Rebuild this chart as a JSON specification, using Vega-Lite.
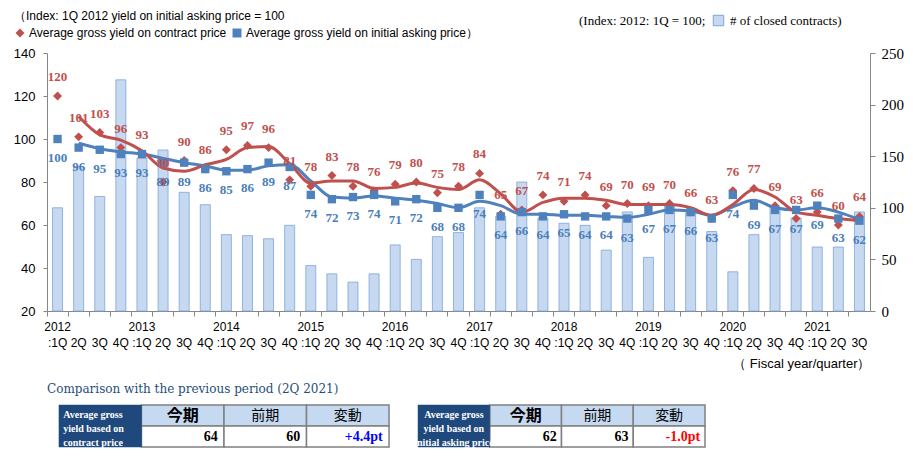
{
  "$schema": "https://vega.github.io/schema/vega-lite/v6.json",
  "padding": {"left": 13, "top": 11, "right": 4, "bottom": 0},
  "config": {"view": {"stroke": null}, "axis": {"grid": false}},
  "resolve": {"legend": {"color": "independent", "shape": "independent", "fill": "independent"}},
  "spacing": 13,
  "datasets": {
    "main": [
      {"q": "2012 1Q", "yr": "2012", "contract": 120, "asking": 100, "cAvg": null, "aAvg": null, "n": 100},
      {"q": "2012 2Q", "yr": "2012", "contract": 101, "asking": 96, "cAvg": 110.5, "aAvg": 98, "n": 140},
      {"q": "2012 3Q", "yr": "2012", "contract": 103, "asking": 95, "cAvg": 102, "aAvg": 95.5, "n": 111},
      {"q": "2012 4Q", "yr": "2012", "contract": 96, "asking": 93, "cAvg": 99.5, "aAvg": 94, "n": 224},
      {"q": "2013 1Q", "yr": "2013", "contract": 93, "asking": 93, "cAvg": 94.5, "aAvg": 93, "n": 148},
      {"q": "2013 2Q", "yr": "2013", "contract": 80, "asking": 89, "cAvg": 86.5, "aAvg": 91, "n": 156},
      {"q": "2013 3Q", "yr": "2013", "contract": 90, "asking": 89, "cAvg": 85, "aAvg": 89, "n": 115},
      {"q": "2013 4Q", "yr": "2013", "contract": 86, "asking": 86, "cAvg": 88, "aAvg": 87.5, "n": 103},
      {"q": "2014 1Q", "yr": "2014", "contract": 95, "asking": 85, "cAvg": 90.5, "aAvg": 85.5, "n": 74},
      {"q": "2014 2Q", "yr": "2014", "contract": 97, "asking": 86, "cAvg": 96, "aAvg": 85.5, "n": 73},
      {"q": "2014 3Q", "yr": "2014", "contract": 96, "asking": 89, "cAvg": 96.5, "aAvg": 87.5, "n": 70},
      {"q": "2014 4Q", "yr": "2014", "contract": 81, "asking": 87, "cAvg": 88.5, "aAvg": 88, "n": 83},
      {"q": "2015 1Q", "yr": "2015", "contract": 78, "asking": 74, "cAvg": 79.5, "aAvg": 80.5, "n": 44},
      {"q": "2015 2Q", "yr": "2015", "contract": 83, "asking": 72, "cAvg": 80.5, "aAvg": 73, "n": 36},
      {"q": "2015 3Q", "yr": "2015", "contract": 78, "asking": 73, "cAvg": 80.5, "aAvg": 72.5, "n": 28},
      {"q": "2015 4Q", "yr": "2015", "contract": 76, "asking": 74, "cAvg": 77, "aAvg": 73.5, "n": 36},
      {"q": "2016 1Q", "yr": "2016", "contract": 79, "asking": 71, "cAvg": 77.5, "aAvg": 72.5, "n": 64},
      {"q": "2016 2Q", "yr": "2016", "contract": 80, "asking": 72, "cAvg": 79.5, "aAvg": 71.5, "n": 50},
      {"q": "2016 3Q", "yr": "2016", "contract": 75, "asking": 68, "cAvg": 77.5, "aAvg": 70, "n": 72},
      {"q": "2016 4Q", "yr": "2016", "contract": 78, "asking": 68, "cAvg": 76.5, "aAvg": 68, "n": 76},
      {"q": "2017 1Q", "yr": "2017", "contract": 84, "asking": 74, "cAvg": 81, "aAvg": 71, "n": 100},
      {"q": "2017 2Q", "yr": "2017", "contract": 65, "asking": 64, "cAvg": 74.5, "aAvg": 69, "n": 92},
      {"q": "2017 3Q", "yr": "2017", "contract": 67, "asking": 66, "cAvg": 66, "aAvg": 65, "n": 125},
      {"q": "2017 4Q", "yr": "2017", "contract": 74, "asking": 64, "cAvg": 70.5, "aAvg": 65, "n": 90},
      {"q": "2018 1Q", "yr": "2018", "contract": 71, "asking": 65, "cAvg": 72.5, "aAvg": 64.5, "n": 85},
      {"q": "2018 2Q", "yr": "2018", "contract": 74, "asking": 64, "cAvg": 72.5, "aAvg": 64.5, "n": 83},
      {"q": "2018 3Q", "yr": "2018", "contract": 69, "asking": 64, "cAvg": 71.5, "aAvg": 64, "n": 59},
      {"q": "2018 4Q", "yr": "2018", "contract": 70, "asking": 63, "cAvg": 69.5, "aAvg": 63.5, "n": 96},
      {"q": "2019 1Q", "yr": "2019", "contract": 69, "asking": 67, "cAvg": 69.5, "aAvg": 65, "n": 52},
      {"q": "2019 2Q", "yr": "2019", "contract": 70, "asking": 67, "cAvg": 69.5, "aAvg": 67, "n": 103},
      {"q": "2019 3Q", "yr": "2019", "contract": 66, "asking": 66, "cAvg": 68, "aAvg": 66.5, "n": 95},
      {"q": "2019 4Q", "yr": "2019", "contract": 63, "asking": 63, "cAvg": 64.5, "aAvg": 64.5, "n": 77},
      {"q": "2020 1Q", "yr": "2020", "contract": 76, "asking": 74, "cAvg": 69.5, "aAvg": 68.5, "n": 38},
      {"q": "2020 2Q", "yr": "2020", "contract": 77, "asking": 69, "cAvg": 76.5, "aAvg": 71.5, "n": 74},
      {"q": "2020 3Q", "yr": "2020", "contract": 69, "asking": 67, "cAvg": 73, "aAvg": 68, "n": 101},
      {"q": "2020 4Q", "yr": "2020", "contract": 63, "asking": 67, "cAvg": 66, "aAvg": 67, "n": 90},
      {"q": "2021 1Q", "yr": "2021", "contract": 66, "asking": 69, "cAvg": 64.5, "aAvg": 68, "n": 62},
      {"q": "2021 2Q", "yr": "2021", "contract": 60, "asking": 63, "cAvg": 63, "aAvg": 66, "n": 62},
      {"q": "2021 3Q", "yr": "2021", "contract": 64, "asking": 62, "cAvg": 62, "aAvg": 62.5, "n": 96}
    ],
    "t1": [
      {"col": "label", "row": "h", "text": "Average gross\nyield based on\ncontract price"},
      {"col": "label", "row": "v", "text": ""},
      {"col": "今期", "row": "h", "text": "今期"},
      {"col": "前期", "row": "h", "text": "前期"},
      {"col": "変動", "row": "h", "text": "変動"},
      {"col": "今期", "row": "v", "text": "64"},
      {"col": "前期", "row": "v", "text": "60"},
      {"col": "変動", "row": "v", "text": "+4.4pt"}
    ],
    "t2": [
      {"col": "label", "row": "h", "text": "Average gross\nyield based on\ninitial asking price"},
      {"col": "label", "row": "v", "text": ""},
      {"col": "今期", "row": "h", "text": "今期"},
      {"col": "前期", "row": "h", "text": "前期"},
      {"col": "変動", "row": "h", "text": "変動"},
      {"col": "今期", "row": "v", "text": "62"},
      {"col": "前期", "row": "v", "text": "63"},
      {"col": "変動", "row": "v", "text": "-1.0pt"}
    ]
  },
  "vconcat": [
    {
      "width": 823,
      "height": 258,
      "data": {"name": "main"},
      "encoding": {
        "x": {
          "field": "q", "type": "ordinal", "sort": null,
          "scale": {"paddingInner": 0, "paddingOuter": 0},
          "axis": {
            "title": "（ Fiscal year/quarter）", "titleAnchor": "end", "titleFont": "Liberation Sans", "titleFontSize": 13, "titleFontWeight": "normal", "titleColor": "#000000", "titlePadding": 9,
            "labelExpr": "slice(datum.value,5)==='1Q' ? ':1Q' : slice(datum.value,5)",
            "labelAngle": 0, "labelFont": "Liberation Sans", "labelFontSize": 12, "labelColor": "#000000", "labelPadding": 21,
            "bandPosition": 0, "tickSize": 5, "tickColor": "#868686", "domainColor": "#868686"
          }
        }
      },
      "layer": [
        {
          "mark": {"type": "bar", "size": 10, "stroke": "#7da5d8", "strokeWidth": 0.8},
          "encoding": {
            "y": {"field": "n", "type": "quantitative", "scale": {"domain": [0, 250], "nice": false},
              "axis": {"orient": "right", "values": [0, 50, 100, 150, 200, 250], "title": null, "labelFont": "Liberation Serif", "labelFontSize": 15, "labelColor": "#000000", "tickSize": 5, "labelPadding": 6, "tickColor": "#868686", "domainColor": "#868686"}},
            "fill": {"datum": "# of closed contracts)", "scale": {"range": ["#c6d9f1"]},
              "legend": {"orient": "none", "legendX": 532, "legendY": -39, "title": "(Index: 2012: 1Q = 100;", "titleOrient": "left", "titleFont": "Liberation Serif", "titleFontSize": 13, "titleFontWeight": "normal", "titleColor": "#000000", "titlePadding": 6, "titleLimit": 400, "labelFont": "Liberation Serif", "labelFontSize": 13, "labelColor": "#000000", "labelLimit": 400, "symbolType": "square", "symbolSize": 110, "symbolStrokeColor": "#7da5d8", "symbolStrokeWidth": 1, "labelOffset": 5, "padding": 0}}
          }
        },
        {
          "transform": [{"filter": "datum.aAvg != null"}],
          "mark": {"type": "line", "color": "#4f81bd", "strokeWidth": 3, "interpolate": "monotone"},
          "encoding": {"y": {"field": "aAvg", "type": "quantitative", "scale": {"domain": [20, 140], "nice": false},
            "axis": {"orient": "left", "values": [20, 40, 60, 80, 100, 120, 140], "title": null, "labelFont": "Liberation Sans", "labelFontSize": 13, "labelColor": "#000000", "tickSize": 4, "labelPadding": 8, "tickColor": "#868686", "domainColor": "#868686"}}}
        },
        {
          "transform": [{"filter": "datum.cAvg != null"}],
          "mark": {"type": "line", "color": "#c0504d", "strokeWidth": 3, "interpolate": "monotone"},
          "encoding": {"y": {"field": "cAvg", "type": "quantitative", "scale": {"domain": [20, 140], "nice": false}, "axis": null}}
        },
        {
          "mark": {"type": "point", "filled": true, "opacity": 1, "size": 80},
          "encoding": {
            "y": {"field": "contract", "type": "quantitative", "scale": {"domain": [20, 140], "nice": false}, "axis": null},
            "color": {"datum": "Average gross yield on contract price", "scale": {"domain": ["Average gross yield on contract price", "Average gross yield on initial asking price）"], "range": ["#c0504d", "#4f81bd"]},
              "legend": {"orient": "none", "legendX": -33, "legendY": -42, "direction": "horizontal", "title": "（Index: 1Q 2012 yield on initial asking price = 100", "titleOrient": "top", "titleAnchor": "start", "titleFont": "Liberation Sans", "titleFontSize": 12, "titleFontWeight": "normal", "titleColor": "#000000", "titleLimit": 600, "titlePadding": 4, "labelFont": "Liberation Sans", "labelFontSize": 12, "labelColor": "#000000", "symbolSize": 80, "labelOffset": 3, "columnPadding": 4, "padding": 0, "labelLimit": 400}},
            "shape": {"datum": "Average gross yield on contract price", "scale": {"domain": ["Average gross yield on contract price", "Average gross yield on initial asking price）"], "range": ["diamond", "square"]},
              "legend": {"orient": "none", "legendX": -33, "legendY": -42, "direction": "horizontal", "title": "（Index: 1Q 2012 yield on initial asking price = 100", "titleOrient": "top", "titleAnchor": "start", "titleFont": "Liberation Sans", "titleFontSize": 12, "titleFontWeight": "normal", "titleColor": "#000000", "titleLimit": 600, "titlePadding": 4, "labelFont": "Liberation Sans", "labelFontSize": 12, "labelColor": "#000000", "symbolSize": 80, "labelOffset": 3, "columnPadding": 4, "padding": 0, "labelLimit": 400}}
          }
        },
        {
          "mark": {"type": "point", "filled": true, "opacity": 1, "size": 70},
          "encoding": {
            "y": {"field": "asking", "type": "quantitative", "scale": {"domain": [20, 140], "nice": false}, "axis": null},
            "color": {"datum": "Average gross yield on initial asking price）"},
            "shape": {"datum": "Average gross yield on initial asking price）"}
          }
        },
        {
          "mark": {"type": "text", "font": "Liberation Serif", "fontWeight": "bold", "fontSize": 13, "color": "#c0504d", "dy": -19},
          "encoding": {"y": {"field": "contract", "type": "quantitative", "scale": {"domain": [20, 140], "nice": false}, "axis": null}, "text": {"field": "contract", "type": "quantitative"}}
        },
        {
          "mark": {"type": "text", "font": "Liberation Serif", "fontWeight": "bold", "fontSize": 13, "color": "#4a7ebb", "dy": 19},
          "encoding": {"y": {"field": "asking", "type": "quantitative", "scale": {"domain": [20, 140], "nice": false}, "axis": null}, "text": {"field": "asking", "type": "quantitative"}}
        },
        {
          "transform": [{"filter": "indexof(datum.q, '1Q') > 0"}],
          "mark": {"type": "text", "font": "Liberation Sans", "fontSize": 12, "color": "#000000", "dy": 16},
          "encoding": {"y": {"datum": 20, "type": "quantitative", "scale": {"domain": [20, 140], "nice": false}, "axis": null}, "text": {"field": "yr", "type": "nominal"}}
        }
      ],
      "resolve": {"scale": {"y": "independent"}}
    },
    {
      "title": {"text": "Comparison with the previous period (2Q 2021)", "anchor": "start", "frame": "group", "offset": 8, "font": "DejaVu Serif", "fontSize": 12, "fontWeight": "normal", "color": "#1f4e79"},
      "spacing": 13,
      "hconcat": [
        {
          "width": 354,
          "height": 42,
          "data": {"name": "t1"},
          "encoding": {
            "x": {"field": "col", "type": "nominal", "sort": null, "scale": {"domain": ["label", "今期", "前期", "変動"], "paddingInner": 0, "paddingOuter": 0.145}, "axis": null},
            "y": {"field": "row", "type": "nominal", "scale": {"domain": ["h", "v"], "paddingInner": 0, "paddingOuter": 0}, "axis": null}
          },
          "layer": [
            {
              "transform": [{"filter": "datum.col !== 'label'"}],
              "mark": {"type": "rect", "stroke": "#808080", "strokeWidth": 1.5},
              "encoding": {"fill": {"condition": {"test": "datum.row === 'h'", "value": "#c5d9f1"}, "value": "#ffffff"}}
            },
            {
              "transform": [{"filter": "datum.col === 'label'"}],
              "mark": {"type": "rect", "fill": "#1f497d", "stroke": "#1f497d", "strokeWidth": 0.5}
            },
            {
              "transform": [{"filter": "datum.col === 'label' && datum.row === 'h'"}],
              "mark": {"type": "text", "lineBreak": "\n", "align": "left", "dx": -37, "dy": -1, "font": "Liberation Serif", "fontWeight": "bold", "fontSize": 10, "lineHeight": 14, "color": "#ffffff"},
              "encoding": {"text": {"field": "text", "type": "nominal"}}
            },
            {
              "transform": [{"filter": "datum.row === 'h' && datum.col === '今期'"}],
              "mark": {"type": "text", "font": "Noto Sans CJK JP", "fontWeight": "bold", "fontSize": 16, "color": "#000000"},
              "encoding": {"text": {"field": "text", "type": "nominal"}}
            },
            {
              "transform": [{"filter": "datum.row === 'h' && datum.col !== '今期' && datum.col !== 'label'"}],
              "mark": {"type": "text", "font": "Noto Sans CJK JP", "fontWeight": "normal", "fontSize": 14, "color": "#000000"},
              "encoding": {"text": {"field": "text", "type": "nominal"}}
            },
            {
              "transform": [{"filter": "datum.row === 'v' && datum.col !== 'label'"}],
              "mark": {"type": "text", "align": "right", "dx": 35, "font": "Liberation Serif", "fontWeight": "bold", "fontSize": 14},
              "encoding": {
                "text": {"field": "text", "type": "nominal"},
                "color": {"condition": {"test": "datum.col === '変動'", "value": "#0000ff"}, "value": "#000000"}
              }
            }
          ]
        },
        {
          "width": 287,
          "height": 42,
          "data": {"name": "t2"},
          "encoding": {
            "x": {"field": "col", "type": "nominal", "sort": null, "scale": {"domain": ["label", "今期", "前期", "変動"], "paddingInner": 0, "paddingOuter": 0}, "axis": null},
            "y": {"field": "row", "type": "nominal", "scale": {"domain": ["h", "v"], "paddingInner": 0, "paddingOuter": 0}, "axis": null}
          },
          "layer": [
            {
              "transform": [{"filter": "datum.col !== 'label'"}],
              "mark": {"type": "rect", "stroke": "#808080", "strokeWidth": 1.5},
              "encoding": {"fill": {"condition": {"test": "datum.row === 'h'", "value": "#c5d9f1"}, "value": "#ffffff"}}
            },
            {
              "transform": [{"filter": "datum.col === 'label'"}],
              "mark": {"type": "rect", "fill": "#1f497d", "stroke": "#1f497d", "strokeWidth": 0.5}
            },
            {
              "transform": [{"filter": "datum.col === 'label' && datum.row === 'h'"}],
              "mark": {"type": "text", "lineBreak": "\n", "align": "center", "dy": -1, "font": "Liberation Serif", "fontWeight": "bold", "fontSize": 10, "lineHeight": 14, "color": "#ffffff"},
              "encoding": {"text": {"field": "text", "type": "nominal"}}
            },
            {
              "transform": [{"filter": "datum.row === 'h' && datum.col === '今期'"}],
              "mark": {"type": "text", "font": "Noto Sans CJK JP", "fontWeight": "bold", "fontSize": 16, "color": "#000000"},
              "encoding": {"text": {"field": "text", "type": "nominal"}}
            },
            {
              "transform": [{"filter": "datum.row === 'h' && datum.col !== '今期' && datum.col !== 'label'"}],
              "mark": {"type": "text", "font": "Noto Sans CJK JP", "fontWeight": "normal", "fontSize": 14, "color": "#000000"},
              "encoding": {"text": {"field": "text", "type": "nominal"}}
            },
            {
              "transform": [{"filter": "datum.row === 'v' && datum.col !== 'label'"}],
              "mark": {"type": "text", "align": "right", "dx": 31, "font": "Liberation Serif", "fontWeight": "bold", "fontSize": 14},
              "encoding": {
                "text": {"field": "text", "type": "nominal"},
                "color": {"condition": {"test": "datum.col === '変動'", "value": "#ff0000"}, "value": "#000000"}
              }
            }
          ]
        }
      ]
    }
  ]
}
